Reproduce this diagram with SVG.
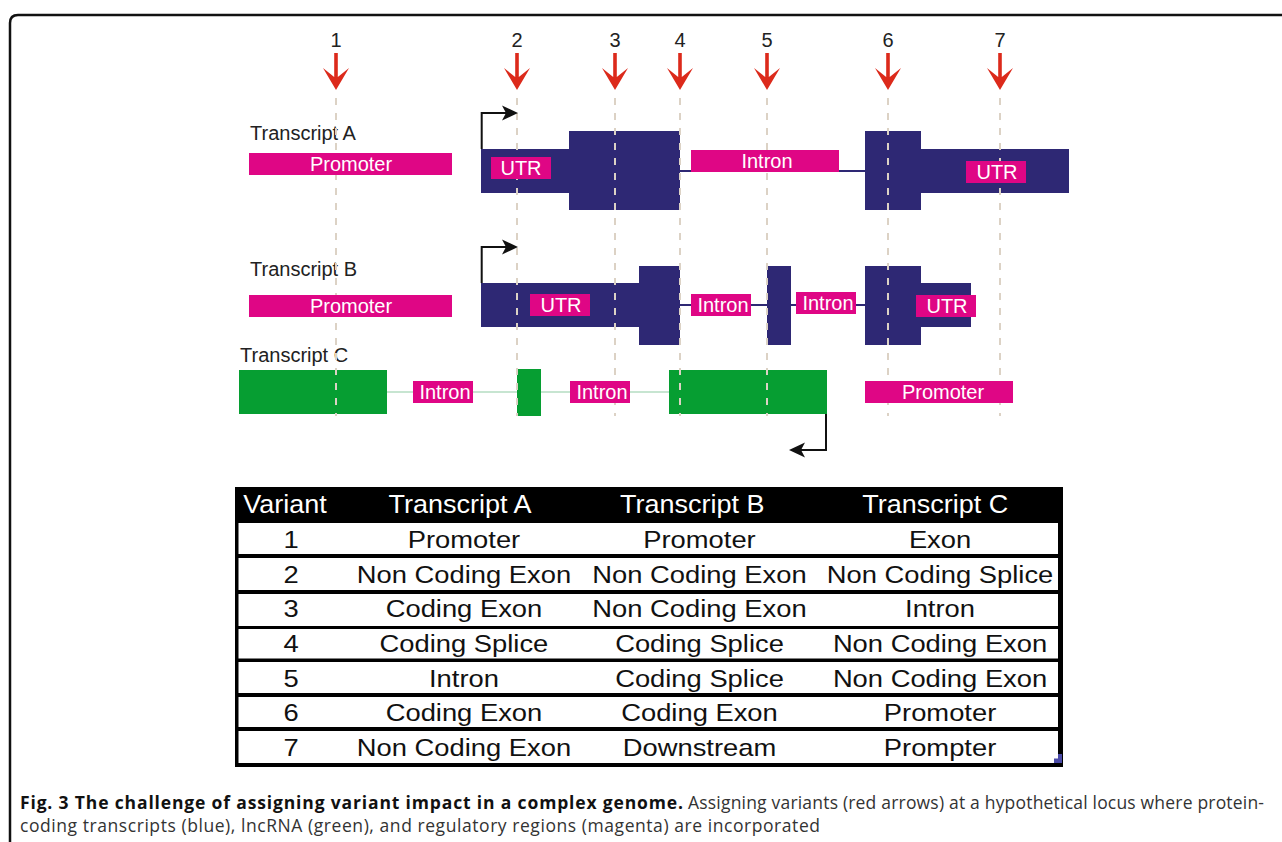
<svg xmlns="http://www.w3.org/2000/svg" xmlns:xlink="http://www.w3.org/1999/xlink" width="1282" height="842" viewBox="0 0 1282 842">
<style>
.lbl{font-family:"Liberation Sans",Arial,sans-serif;font-size:20px;fill:#222}
.wl{font-family:"Liberation Sans",Arial,sans-serif;font-size:20px;fill:#fff;text-anchor:middle}
.mag{fill:#df0685}
.blue{fill:#2e2874}
.grn{fill:#069e32}
.dash{stroke:#dcd2c5;stroke-width:2;stroke-dasharray:7 8;fill:none}
.conn{stroke:#111;stroke-width:2;fill:none}
.head{fill:#111}
.tb{font-family:"Liberation Sans",Arial,sans-serif;font-size:24px;fill:#111;text-anchor:middle}
.th{font-family:"Liberation Sans",Arial,sans-serif;font-size:25px;fill:#fff;text-anchor:middle}
.cap{font-family:"Open Sans","Noto Sans",sans-serif;font-size:17.5px}
</style>
<defs>
<path id="redArrow" d="M-1.8 0 H1.8 V24 L13 15 L0 37 L-13 15 L-1.8 24 Z" fill="#dc2a1b"/>
</defs>
<rect width="1282" height="842" fill="#fff"/>
<path d="M10 842 V23 Q10 15 18 15 H1282" fill="none" stroke="#111" stroke-width="2.5"/>

<g id="transcript-C">
<line x1="387" y1="392" x2="669" y2="392" stroke="#b5dcc2" stroke-width="1.5"/>
<rect class="grn" x="239" y="370" width="148" height="44"/>
<rect class="grn" x="517" y="369" width="24" height="47"/>
<rect class="grn" x="669" y="370" width="158" height="44"/>
<text class="lbl" x="240" y="362">Transcript C</text>
</g>
<g id="transcript-A">
<line x1="680" y1="171" x2="865" y2="171" stroke="#2e2874" stroke-width="2"/>
<rect class="blue" x="481" y="149" width="88" height="44"/>
<rect class="blue" x="569" y="131" width="111" height="79"/>
<rect class="blue" x="865" y="131" width="56" height="79"/>
<rect class="blue" x="921" y="149" width="148" height="44"/>
<text class="lbl" x="250" y="140">Transcript A</text>
</g>
<g id="transcript-B">
<line x1="680" y1="305" x2="865" y2="305" stroke="#2e2874" stroke-width="2"/>
<rect class="blue" x="481" y="283" width="158" height="44"/>
<rect class="blue" x="639" y="266" width="41" height="79"/>
<rect class="blue" x="767" y="266" width="24" height="79"/>
<rect class="blue" x="865" y="266" width="56" height="79"/>
<rect class="blue" x="921" y="283" width="50" height="44"/>
<text class="lbl" x="250" y="276">Transcript B</text>
</g>

<g id="variant-lines">
<line class="dash" x1="336" y1="98" x2="336" y2="416"/>
<line class="dash" x1="517" y1="98" x2="517" y2="416"/>
<line class="dash" x1="615" y1="98" x2="615" y2="416"/>
<line class="dash" x1="680" y1="98" x2="680" y2="416"/>
<line class="dash" x1="767" y1="98" x2="767" y2="416"/>
<line class="dash" x1="888" y1="98" x2="888" y2="416"/>
<line class="dash" x1="1000" y1="98" x2="1000" y2="416"/>
</g>

<g id="labels-A">
<rect class="mag" x="249" y="153" width="203" height="22"/><text class="wl" x="351" y="171">Promoter</text>
<rect class="mag" x="491" y="157" width="60" height="22"/><text class="wl" x="521" y="175">UTR</text>
<rect class="mag" x="691" y="150" width="148" height="22"/><text class="wl" x="767" y="168">Intron</text>
<rect class="mag" x="966" y="161" width="60" height="22"/><text class="wl" x="997" y="179">UTR</text>
</g>
<g id="labels-B">
<rect class="mag" x="249" y="295" width="203" height="22"/><text class="wl" x="351" y="313">Promoter</text>
<rect class="mag" x="530" y="294" width="60" height="22"/><text class="wl" x="561" y="312">UTR</text>
<rect class="mag" x="691" y="294" width="60" height="22"/><text class="wl" x="723" y="312">Intron</text>
<rect class="mag" x="796" y="292" width="60" height="22"/><text class="wl" x="828" y="310">Intron</text>
<rect class="mag" x="916" y="295" width="60" height="22"/><text class="wl" x="947" y="313">UTR</text>
</g>
<g id="labels-C">
<rect class="mag" x="413" y="381" width="60" height="22"/><text class="wl" x="445" y="399">Intron</text>
<rect class="mag" x="570" y="381" width="60" height="22"/><text class="wl" x="602" y="399">Intron</text>
<rect class="mag" x="865" y="381" width="148" height="22"/><text class="wl" x="943" y="399">Promoter</text>
</g>

<g id="connectors">
<path class="conn" d="M481.7 149 V113 H506"/>
<polygon class="head" points="518,113 502,105.5 506,113 502,120.5"/>
<path class="conn" d="M481.7 283 V247 H506"/>
<polygon class="head" points="518,247 502,239.5 506,247 502,254.5"/>
<path class="conn" d="M826 414 V450 H801"/>
<polygon class="head" points="789,450 805,442.5 801,450 805,457.5"/>
</g>

<g id="variants">
<g id="v1"><text class="lbl" x="336" y="47" text-anchor="middle">1</text><use xlink:href="#redArrow" x="336" y="53"/></g>
<g id="v2"><text class="lbl" x="517" y="47" text-anchor="middle">2</text><use xlink:href="#redArrow" x="517" y="53"/></g>
<g id="v3"><text class="lbl" x="615" y="47" text-anchor="middle">3</text><use xlink:href="#redArrow" x="615" y="53"/></g>
<g id="v4"><text class="lbl" x="680" y="47" text-anchor="middle">4</text><use xlink:href="#redArrow" x="680" y="53"/></g>
<g id="v5"><text class="lbl" x="767" y="47" text-anchor="middle">5</text><use xlink:href="#redArrow" x="767" y="53"/></g>
<g id="v6"><text class="lbl" x="888" y="47" text-anchor="middle">6</text><use xlink:href="#redArrow" x="888" y="53"/></g>
<g id="v7"><text class="lbl" x="1000" y="47" text-anchor="middle">7</text><use xlink:href="#redArrow" x="1000" y="53"/></g>
</g>

<g id="table">
<rect x="235" y="487" width="828" height="280" fill="#000"/>
<g fill="#fff">
<rect x="238.5" y="523" width="819.5" height="31"/>
<rect x="238.5" y="558" width="819.5" height="32"/>
<rect x="238.5" y="594" width="819.5" height="32"/>
<rect x="238.5" y="629" width="819.5" height="29.5"/>
<rect x="238.5" y="662" width="819.5" height="31"/>
<rect x="238.5" y="697" width="819.5" height="30"/>
<rect x="238.5" y="731" width="819.5" height="32"/>
</g>
<polygon points="1062,754 1062,763 1054,763 1054,758.5 1058,758.5 1058,754" fill="#4b4ba8"/>
<g transform="scale(1.08 1)">
<text class="th" x="264" y="513">Variant</text>
<text class="th" x="426" y="513">Transcript A</text>
<text class="th" x="641" y="513">Transcript B</text>
<text class="th" x="866" y="513">Transcript C</text>
</g>
<g transform="scale(1.14 1)">
<text class="tb" x="255.3" y="548">1</text><text class="tb" x="407" y="548">Promoter</text><text class="tb" x="613.6" y="548">Promoter</text><text class="tb" x="824.6" y="548">Exon</text>
<text class="tb" x="255.3" y="583">2</text><text class="tb" x="407" y="583">Non Coding Exon</text><text class="tb" x="613.6" y="583">Non Coding Exon</text><text class="tb" x="824.6" y="583">Non Coding Splice</text>
<text class="tb" x="255.3" y="617">3</text><text class="tb" x="407" y="617">Coding Exon</text><text class="tb" x="613.6" y="617">Non Coding Exon</text><text class="tb" x="824.6" y="617">Intron</text>
<text class="tb" x="255.3" y="652">4</text><text class="tb" x="407" y="652">Coding Splice</text><text class="tb" x="613.6" y="652">Coding Splice</text><text class="tb" x="824.6" y="652">Non Coding Exon</text>
<text class="tb" x="255.3" y="687">5</text><text class="tb" x="407" y="687">Intron</text><text class="tb" x="613.6" y="687">Coding Splice</text><text class="tb" x="824.6" y="687">Non Coding Exon</text>
<text class="tb" x="255.3" y="721">6</text><text class="tb" x="407" y="721">Coding Exon</text><text class="tb" x="613.6" y="721">Coding Exon</text><text class="tb" x="824.6" y="721">Promoter</text>
<text class="tb" x="255.3" y="756">7</text><text class="tb" x="407" y="756">Non Coding Exon</text><text class="tb" x="613.6" y="756">Downstream</text><text class="tb" x="824.6" y="756">Prompter</text>
</g>
</g>

<g id="caption">
<text class="cap" x="20" y="809"><tspan font-weight="bold" fill="#111" textLength="663">Fig. 3 The challenge of assigning variant impact in a complex genome.</tspan><tspan x="688" fill="#333" textLength="576">Assigning variants (red arrows) at a hypothetical locus where protein-</tspan></text>
<text class="cap" x="20" y="832" fill="#333" textLength="800">coding transcripts (blue), lncRNA (green), and regulatory regions (magenta) are incorporated</text>
</g>
</svg>
